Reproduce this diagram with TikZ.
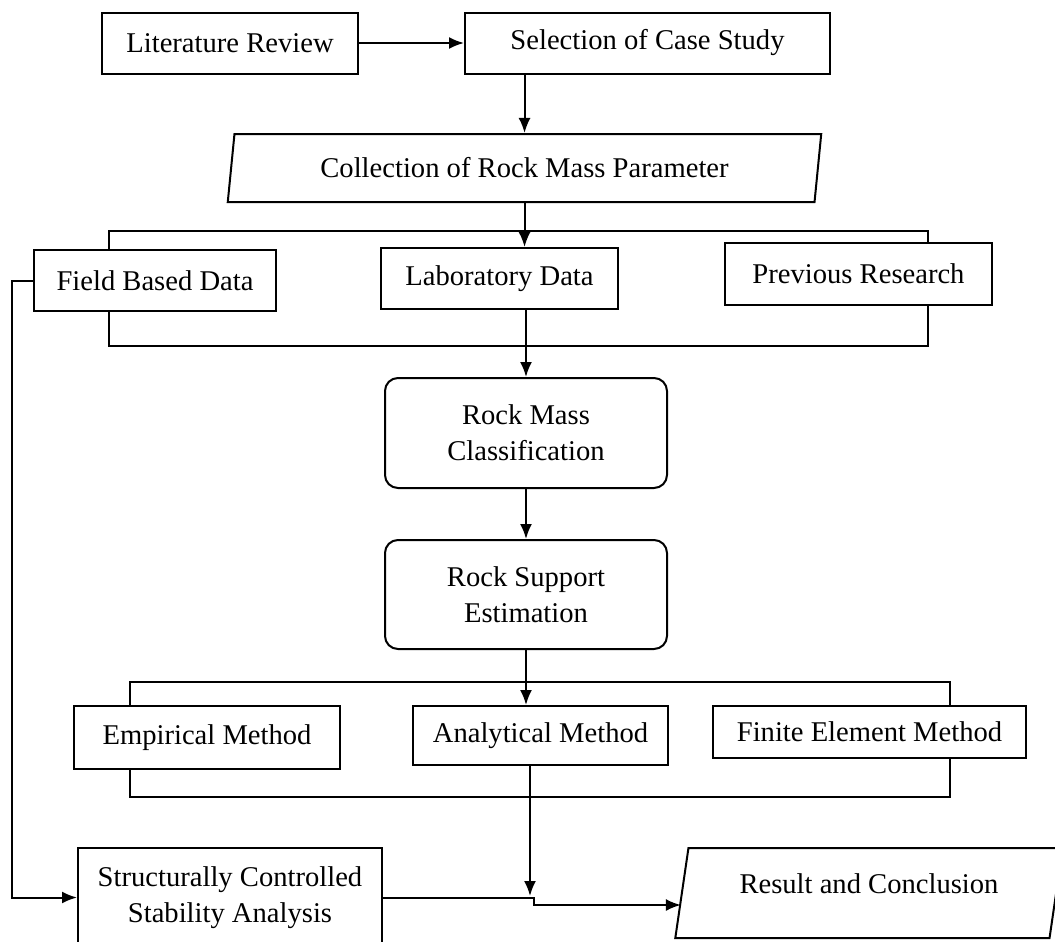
\documentclass[tikz,border=0pt]{standalone}
\usepackage{fontspec}
\setmainfont{Liberation Serif}
\usetikzlibrary{arrows.meta,positioning,shapes.geometric}
\tikzset{
procbox/.style={
  rectangle,
  draw=black,
  fill=white,
  line width=1pt,
  align=center,
  inner sep=0pt,
  font=\fontsize{14.3}{18}\selectfont
  },
roundbox/.style={
  procbox,
  rounded corners=6.5pt
  },
iobox/.style 2 args={
  procbox,
  trapezium,
  trapezium stretches=true,
  trapezium left angle=#1,
  trapezium right angle=#2
  },
grpframe/.style={
  rectangle,
  draw=black,
  line width=1pt,
  inner sep=0pt
  }
}
\begin{document}
\begin{tikzpicture}[>={Latex[length=7.5pt,width=6pt]},x=0.5pt,y=-0.5pt,line width=1pt]

\useasboundingbox (0,0) rectangle (1055,942);

\node[procbox,minimum width=128pt,minimum height=30.5pt]
at (230,43)
(lit) {Literature Review};

\node[procbox,minimum width=182.5pt,minimum height=30.5pt]
at (647.5,43)
(sel) {Selection of Case Study};

\node[iobox={77}{103},minimum width=297.5pt,minimum height=34pt]
at (524.5,168)
(coll) {Collection of Rock Mass Parameter};

\node[grpframe,minimum width=409.5pt,minimum height=57.5pt]
at (518.5,288.5)
(datagrp) {};

\node[procbox,minimum width=121pt,minimum height=30.5pt]
at (155,280.5)
(field) {Field Based Data};

\node[procbox,minimum width=118.5pt,minimum height=30.5pt]
at (499.5,278.5)
(lab) {Laboratory Data};

\node[procbox,minimum width=133.5pt,minimum height=31pt]
at (858.5,274)
(prev) {Previous Research};

\node[roundbox,minimum width=141pt,minimum height=55pt]
at (526,433)
(rmc) {Rock Mass\\Classification};

\node[roundbox,minimum width=141pt,minimum height=54.5pt]
at (526,594.5)
(rse) {Rock Support\\Estimation};

\node[grpframe,minimum width=410pt,minimum height=57.5pt]
at (540,739.5)
(methgrp) {};

\node[procbox,minimum width=133pt,minimum height=31.5pt]
at (207,737.5)
(emp) {Empirical Method};

\node[procbox,minimum width=127.5pt,minimum height=29.5pt]
at (540.5,735.5)
(ana) {Analytical Method};

\node[procbox,minimum width=156.5pt,minimum height=26pt]
at (869.5,732)
(fem) {Finite Element Method};

\node[procbox,minimum width=152pt,minimum height=49.5pt]
at (230,897.5)
(str) {Structurally Controlled\\Stability Analysis};

\node[iobox={76}{104},minimum width=194pt,minimum height=45pt,text depth=9pt]
at (869,893)
(res) {Result and Conclusion};

\coordinate (jn) at (530,896);
\coordinate (kn) at (534,905);

\draw[->] (lit) -- (sel);

\draw[->] (sel.south -| coll.north) -- (coll.north);

\draw[->] (coll.south) -- (coll.south |- lab.north);

\draw[->] (rmc.north |- lab.south) -- (rmc.north);

\draw[->] (rmc) -- (rse);

\draw[->] (rse.south) -- (rse.south |- ana.north);

\draw[->] (ana.south -| jn) -- (jn);

\draw[->] (str.east) -| (kn) -- (kn -| res.west);

\draw[->] (field.west) -- ++(-21,0) |- (str.west);

\end{tikzpicture}
\end{document}
